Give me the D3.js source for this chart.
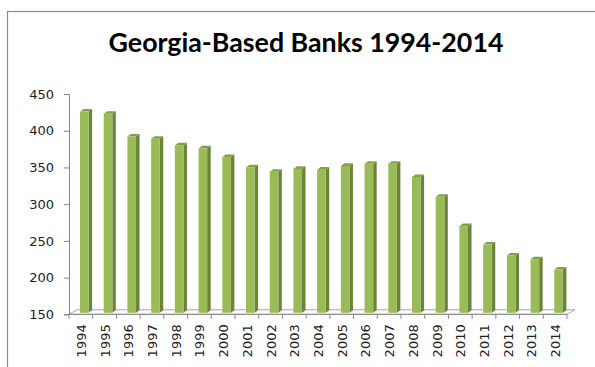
<!DOCTYPE html>
<html>
<head>
<meta charset="utf-8">
<script src="https://cdn.jsdelivr.net/npm/d3@7"></script>
<style>
  html, body { margin: 0; padding: 0; background: #fff; }
  svg { display: block; }
</style>
</head>
<body>
<svg id="chart" width="595" height="367"></svg>
<script>
const years = ["1994","1995","1996","1997","1998","1999","2000","2001","2002","2003","2004","2005","2006","2007","2008","2009","2010","2011","2012","2013","2014"];
const banks = [426, 423, 392, 389, 380, 376, 364, 350, 344, 348, 347, 352, 355, 355, 337, 310, 270, 245, 230, 225, 211];
const yTicks = [150, 200, 250, 300, 350, 400, 450];
const titleText = "Georgia-Based Banks 1994-2014";

const svg = d3.select("#chart");

// outer frame (partially cropped)
svg.append("rect").attr("x", 7.5).attr("y", 11.5).attr("width", 700).attr("height", 500)
  .attr("fill", "none").attr("stroke", "#8c8c8c").attr("stroke-width", 1.2);

const x0 = 69, x1 = 567;
const x = d3.scaleBand().domain(years).range([x0, x1]).padding(0);
const y = d3.scaleLinear().domain([150, 450]).range([314.3, 94]);

const floorDx = 8, floorDy = -4.5;
const barDx = 3.5, barDy = -2.6;
const barW = 8.6, barOff = 11;

// floor
const fy = y(150);
svg.append("path")
  .attr("d", `M${x0},${fy} L${x1},${fy} L${x1+floorDx},${fy+floorDy} L${x0+floorDx},${fy+floorDy} Z`)
  .attr("fill", "#ffffff").attr("stroke", "#a6a6a6").attr("stroke-width", 1);

// y axis
const yAxis = d3.axisLeft(y).tickValues(yTicks).tickSize(5).tickPadding(10);
const gy = svg.append("g").attr("transform", `translate(${x0},0)`).call(yAxis);
gy.select(".domain").attr("stroke", "#868686");
gy.selectAll(".tick line").attr("stroke", "#868686");
gy.selectAll(".tick text").attr("font-family", "DejaVu Sans").attr("font-size", 13).attr("fill", "#222");

// x axis (ticks at category boundaries)
const gx = svg.append("g");
const bounds = years.map(d => x(d)).concat([x1]);
gx.selectAll("line").data(bounds).join("line")
  .attr("x1", d => d).attr("x2", d => d).attr("y1", fy).attr("y2", fy + 4.5)
  .attr("stroke", "#868686");
gx.append("line").attr("x1", x0).attr("x2", x1).attr("y1", fy).attr("y2", fy).attr("stroke", "#868686");
gx.selectAll("text").data(years).join("text")
  .attr("transform", d => `translate(${x(d) + x.bandwidth()/2 + 5},${fy + 10}) rotate(-90)`)
  .attr("text-anchor", "end")
  .attr("font-family", "DejaVu Sans").attr("font-size", 13).attr("fill", "#222")
  .text(d => d);

// 3D bars
const bars = svg.append("g");
const bottom = fy - 1.5;
years.forEach((yr, i) => {
  const bx = x(yr) + barOff;
  const top = y(banks[i]);
  const g = bars.append("g");
  // side
  g.append("path")
    .attr("d", `M${bx+barW},${top} L${bx+barW+barDx},${top+barDy} L${bx+barW+barDx},${bottom+barDy} L${bx+barW},${bottom} Z`)
    .attr("fill", "#6b8537");
  // top
  g.append("path")
    .attr("d", `M${bx},${top} L${bx+barDx},${top+barDy} L${bx+barW+barDx},${top+barDy} L${bx+barW},${top} Z`)
    .attr("fill", "#84a046");
  // front
  g.append("rect").attr("x", bx).attr("y", top).attr("width", barW).attr("height", bottom - top)
    .attr("fill", "#9bbb59");
});

// title
const t = svg.append("text")
  .attr("x", 306).attr("y", 52)
  .attr("text-anchor", "middle")
  .attr("font-family", "Lato").attr("font-weight", "bold").attr("font-size", 26)
  .attr("fill", "#000")
  .text(titleText);
const w = t.node().getComputedTextLength();
t.attr("font-size", 26 * 395 / w);
</script>
</body>
</html>
